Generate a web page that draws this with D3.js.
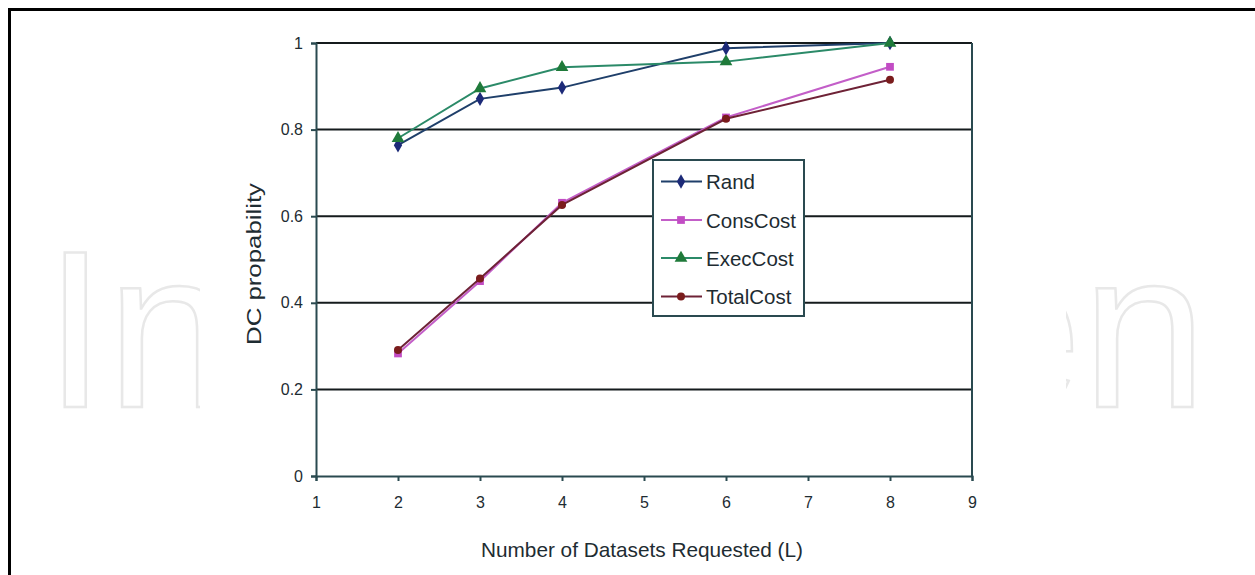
<!DOCTYPE html>
<html>
<head>
<meta charset="utf-8">
<script src="https://cdn.jsdelivr.net/npm/d3@7"></script>
<style>
  html, body { margin: 0; padding: 0; background: #fff; }
  svg { display: block; font-family: "Liberation Sans", Arial, sans-serif; }
</style>
</head>
<body>
<svg id="chart" width="1255" height="575"></svg>
<script>
// ---- data ----
const xValues = [2, 3, 4, 6, 8];
const seriesNames = ["Rand", "ConsCost", "ExecCost", "TotalCost"];
const randValues = [0.764, 0.871, 0.897, 0.988, 1.0];
const consCostValues = [0.283, 0.450, 0.631, 0.828, 0.945];
const execCostValues = [0.780, 0.895, 0.944, 0.957, 1.0];
const totalCostValues = [0.291, 0.456, 0.626, 0.825, 0.915];
const xTicks = [1, 2, 3, 4, 5, 6, 7, 8, 9];
const yTicks = [0, 0.2, 0.4, 0.6, 0.8, 1];
const yTickLabels = ["0", "0.2", "0.4", "0.6", "0.8", "1"];
const xLabel = "Number of Datasets Requested (L)";
const yLabel = "DC propability";
const watermark = "IntechOpen";

// ---- styles ----
const styles = {
  Rand:      { line: "#1f3f6a", marker: "#1c2a78", shape: d3.symbolDiamond, size: 60 },
  ConsCost:  { line: "#c35ec8", marker: "#c24cc4", shape: d3.symbolSquare, size: 60 },
  ExecCost:  { line: "#2b8a68", marker: "#1f7a3a", shape: d3.symbolTriangle, size: 70 },
  TotalCost: { line: "#6e2236", marker: "#7a1c1c", shape: d3.symbolCircle, size: 50 }
};
const seriesValues = {
  Rand: randValues, ConsCost: consCostValues, ExecCost: execCostValues, TotalCost: totalCostValues
};

const svg = d3.select("#chart");

// watermark (only its two ends show around the chart)
svg.append("text")
  .attr("x", 44).attr("y", 407)
  .attr("font-size", 225)
  .attr("fill", "#fff")
  .attr("stroke", "#e8e8e8")
  .attr("stroke-width", 2.5)
  .text(watermark.slice(0, 2));
svg.append("text")
  .attr("x", 1207).attr("y", 407)
  .attr("text-anchor", "end")
  .attr("font-size", 225)
  .attr("fill", "#fff")
  .attr("stroke", "#e8e8e8")
  .attr("stroke-width", 2.5)
  .text(watermark.slice(-2));
svg.append("rect").attr("x", 200).attr("y", 12).attr("width", 866).attr("height", 563).attr("fill", "#fff");

// outer frame (top & left edges)
svg.append("line").attr("x1", 8).attr("x2", 1255).attr("y1", 9.5).attr("y2", 9.5).attr("stroke", "#000").attr("stroke-width", 3);
svg.append("line").attr("x1", 9.5).attr("x2", 9.5).attr("y1", 8).attr("y2", 575).attr("stroke", "#000").attr("stroke-width", 3);

const x = d3.scaleLinear().domain([1, 9]).range([316, 972]);
const y = d3.scaleLinear().domain([0, 1]).range([476, 43]);

const axisColor = "#2a4a50";
const textColor = "#1e2c32";

// gridlines
svg.append("g").selectAll("line").data(yTicks.filter(v => v > 0)).join("line")
  .attr("x1", x(1)).attr("x2", x(9))
  .attr("y1", d => y(d)).attr("y2", d => y(d))
  .attr("stroke", "#151b1d").attr("stroke-width", 2);

// right border
svg.append("line").attr("x1", x(9)).attr("x2", x(9)).attr("y1", y(1)).attr("y2", y(0))
  .attr("stroke", axisColor).attr("stroke-width", 2);

// y axis
const yAxis = svg.append("g").attr("transform", `translate(${x(1)},0)`)
  .call(d3.axisLeft(y).tickValues(yTicks).tickSize(5).tickPadding(8)
    .tickFormat((d, i) => yTickLabels[i]));
yAxis.select(".domain").attr("stroke", axisColor).attr("stroke-width", 2);
yAxis.selectAll(".tick line").attr("stroke", axisColor).attr("stroke-width", 2);
yAxis.selectAll(".tick text").attr("font-size", 16).attr("fill", textColor)
  .attr("font-family", "Liberation Sans, Arial, sans-serif");

// x axis
const xAxis = svg.append("g").attr("transform", `translate(0,${y(0)})`)
  .call(d3.axisBottom(x).tickValues(xTicks).tickSize(5).tickPadding(16)
    .tickFormat(d3.format("d")));
xAxis.select(".domain").attr("stroke", axisColor).attr("stroke-width", 2);
xAxis.selectAll(".tick line").attr("stroke", axisColor).attr("stroke-width", 2);
xAxis.selectAll(".tick text").attr("font-size", 16).attr("fill", textColor)
  .attr("font-family", "Liberation Sans, Arial, sans-serif");

// axis titles
svg.append("text")
  .attr("x", 642).attr("y", 557)
  .attr("text-anchor", "middle")
  .attr("font-size", 21).attr("fill", textColor)
  .attr("textLength", 322).attr("lengthAdjust", "spacingAndGlyphs")
  .text(xLabel);
svg.append("text")
  .attr("transform", "translate(261,264) rotate(-90)")
  .attr("text-anchor", "middle")
  .attr("font-size", 20).attr("fill", textColor)
  .attr("textLength", 162).attr("lengthAdjust", "spacingAndGlyphs")
  .text(yLabel);

// series
const line = d3.line().x(d => x(d[0])).y(d => y(d[1]));
seriesNames.forEach(name => {
  const st = styles[name];
  const pts = xValues.map((xv, i) => [xv, seriesValues[name][i]]);
  const g = svg.append("g");
  g.append("path").attr("d", line(pts)).attr("fill", "none")
    .attr("stroke", st.line).attr("stroke-width", 2);
  g.selectAll("path.m").data(pts).join("path").attr("class", "m")
    .attr("transform", d => `translate(${x(d[0])},${y(d[1])})`)
    .attr("d", d3.symbol().type(st.shape).size(st.size))
    .attr("fill", st.marker);
});

// legend
const lg = svg.append("g");
lg.append("rect").attr("x", 653).attr("y", 160).attr("width", 151).attr("height", 156)
  .attr("fill", "#fff").attr("stroke", axisColor).attr("stroke-width", 2);
const legendY = [181.5, 220, 258, 296.5];
seriesNames.forEach((name, i) => {
  const st = styles[name];
  const ly = legendY[i];
  lg.append("line").attr("x1", 661).attr("x2", 702).attr("y1", ly).attr("y2", ly)
    .attr("stroke", st.line).attr("stroke-width", 2);
  lg.append("path").attr("transform", `translate(681,${ly})`)
    .attr("d", d3.symbol().type(st.shape).size(st.size)).attr("fill", st.marker);
  lg.append("text").attr("x", 706).attr("y", ly + 7.5)
    .attr("font-size", 20.5).attr("fill", textColor).text(name);
});
</script>
</body>
</html>
